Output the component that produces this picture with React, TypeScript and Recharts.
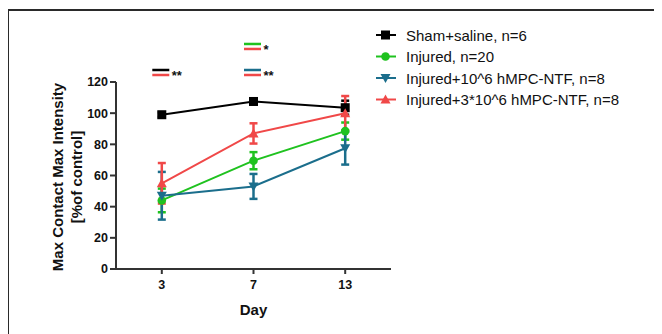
import React from 'react';
import { LineChart, Line, XAxis, YAxis, ErrorBar, Legend, ReferenceDot } from 'recharts';

const days = ['3', '7', '13'];
const shamMean = [99, 107.5, 103.5];
const shamErr = [1.5, 1.5, 4.5];
const injuredMean = [44, 69.5, 88.5];
const injuredErr = [7.6, 5.5, 5.5];
const lowDoseMean = [47, 53, 77.5];
const lowDoseErr = [15.3, 8, 10.5];
const highDoseMean = [55, 87, 100];
const highDoseErr = [13, 6.5, 11];
const yTicks = [0, 20, 40, 60, 80, 100, 120];

const seriesNames = [
  'Sham+saline, n=6',
  'Injured, n=20',
  'Injured+10^6 hMPC-NTF, n=8',
  'Injured+3*10^6 hMPC-NTF, n=8',
];

const BLACK = '#000000';
const GREEN = '#1fc21f';
const BLUE = '#1b6e8c';
const RED = '#f04848';

const series = [
  { key: 'sham', err: 'shamErr', name: seriesNames[0], color: BLACK, shape: 'square' },
  { key: 'injured', err: 'injuredErr', name: seriesNames[1], color: GREEN, shape: 'circle' },
  { key: 'low', err: 'lowErr', name: seriesNames[2], color: BLUE, shape: 'down' },
  { key: 'high', err: 'highErr', name: seriesNames[3], color: RED, shape: 'up' },
];

// significance markers: category, value at top line, top colour, bottom colour, label
const sigDays = ['3', '7', '7'];
const sigValues = [127.7, 144.4, 127.7];
const sigTop = [BLACK, GREEN, BLUE];
const sigBottom = [RED, RED, RED];
const sigLabels = ['**', '*', '**'];

const data = days.map((d, i) => ({
  day: d,
  sham: shamMean[i],
  shamErr: shamErr[i],
  injured: injuredMean[i],
  injuredErr: injuredErr[i],
  low: lowDoseMean[i],
  lowErr: lowDoseErr[i],
  high: highDoseMean[i],
  highErr: highDoseErr[i],
}));

const FONT = '"Liberation Sans", Arial, sans-serif';

function markerPath(shape: string, cx: number, cy: number, color: string, key?: any) {
  if (shape === 'square') {
    return <rect key={key} x={cx - 4.5} y={cy - 4.5} width={9} height={9} fill={color} />;
  }
  if (shape === 'circle') {
    return <circle key={key} cx={cx} cy={cy} r={4.3} fill={color} />;
  }
  if (shape === 'down') {
    return (
      <path key={key} d={`M${cx - 5},${cy - 4} L${cx + 5},${cy - 4} L${cx},${cy + 5} Z`} fill={color} />
    );
  }
  return <path key={key} d={`M${cx - 5},${cy + 4} L${cx + 5},${cy + 4} L${cx},${cy - 5} Z`} fill={color} />;
}

const makeDot = (shape: string, color: string) => (props: any) => {
  const { cx, cy, index } = props;
  if (cx == null || cy == null) return <g key={`n${index}`} />;
  return markerPath(shape, cx, cy, color, `d${shape}${index}`);
};

const LegendContent = () => (
  <svg
    width={300}
    height={110}
    style={{ position: 'absolute', left: 360, top: 0, overflow: 'visible' }}
  >
    {series.map((s, i) => {
      const y = 27 + i * 21.5;
      return (
        <g key={s.key}>
          <line x1={8} x2={28} y1={y} y2={y} stroke={s.color} strokeWidth={2} />
          {markerPath(s.shape, 17.5, y, s.color)}
          <text
            x={38}
            y={y}
            dominantBaseline="central"
            fontSize={15}
            fontFamily={FONT}
            fill="#111"
          >
            {s.name}
          </text>
        </g>
      );
    })}
  </svg>
);

const sigShape = (i: number) => (props: any) => {
  const { cx, cy } = props;
  return (
    <g>
      <line x1={cx - 9.5} x2={cx + 7.5} y1={cy} y2={cy} stroke={sigTop[i]} strokeWidth={2.5} />
      <line x1={cx - 9.5} x2={cx + 7.5} y1={cy + 5} y2={cy + 5} stroke={sigBottom[i]} strokeWidth={2.5} />
      <text x={cx + 10} y={cy + 10} fontSize={13} fontWeight="bold" fontFamily={FONT} fill="#111">
        {sigLabels[i]}
      </text>
    </g>
  );
};

const YLabel = (props: any) => {
  const vb = props.viewBox || { x: 48, y: 74, width: 60, height: 187 };
  const cy = vb.y + vb.height / 2 + 1.5;
  const x1 = vb.x + 1;
  const x2 = vb.x + 20;
  return (
    <g>
      <text
        x={x1}
        y={cy}
        transform={`rotate(-90 ${x1} ${cy})`}
        textAnchor="middle"
        dominantBaseline="central"
        fontSize={15}
        fontWeight="bold"
        fontFamily={FONT}
        fill="#111"
      >
        Max Contact Max Intensity
      </text>
      <text
        x={x2}
        y={cy}
        transform={`rotate(-90 ${x2} ${cy})`}
        textAnchor="middle"
        dominantBaseline="central"
        fontSize={15}
        fontWeight="bold"
        fontFamily={FONT}
        fill="#111"
      >
        [%of control]
      </text>
    </g>
  );
};

const XLabel = (props: any) => {
  const vb = props.viewBox || { x: 108, y: 261, width: 275, height: 30 };
  return (
    <text
      x={vb.x + vb.width / 2}
      y={vb.y + 46}
      textAnchor="middle"
      fontSize={15}
      fontWeight="bold"
      fontFamily={FONT}
      fill="#111"
    >
      Day
    </text>
  );
};

export default function App() {
  return (
    <div style={{ position: 'relative', width: 654, height: 326 }}>
      <div
        style={{
          position: 'absolute',
          left: -1,
          top: 1,
          width: 656,
          height: 330,
          borderTop: '2px solid #2a2a2a',
          borderLeft: '2px solid #2a2a2a',
          boxSizing: 'border-box',
        }}
      />
      <LineChart
        width={654}
        height={326}
        data={data}
        margin={{ top: 74, right: 271, bottom: 35, left: 48 }}
        style={{ fontFamily: FONT }}
      >
        <XAxis
          dataKey="day"
          type="category"
          padding={{ left: 45.8, right: 45.8 }}
          stroke="#333"
          strokeWidth={2}
          tickSize={5}
          tickMargin={6}
          height={30}
          tick={{ fontSize: 12.5, fontWeight: 'bold', fill: '#111', fontFamily: FONT }}
          tickLine={{ stroke: '#333', strokeWidth: 2 }}
          label={<XLabel />}
        />
        <YAxis
          type="number"
          domain={[0, 120]}
          ticks={yTicks}
          interval={0}
          width={60}
          stroke="#333"
          strokeWidth={2}
          tickSize={6}
          tickMargin={2}
          tick={{ fontSize: 12.5, fontWeight: 'bold', fill: '#111', fontFamily: FONT }}
          tickLine={{ stroke: '#333', strokeWidth: 2 }}
          label={<YLabel />}
        />
        {series.map((s) => (
          <Line
            key={s.key}
            dataKey={s.key}
            name={s.name}
            stroke={s.color}
            strokeWidth={2}
            isAnimationActive={false}
            dot={makeDot(s.shape, s.color)}
            activeDot={false}
          >
            <ErrorBar
              dataKey={s.err}
              width={4}
              strokeWidth={2.5}
              stroke={s.color}
              direction="y"
              isAnimationActive={false}
            />
          </Line>
        ))}
        {sigDays.map((d, i) => (
          <ReferenceDot
            key={`sig${i}`}
            x={d}
            y={sigValues[i]}
            ifOverflow="visible"
            shape={sigShape(i)}
          />
        ))}
        <Legend
          content={<LegendContent />}
          wrapperStyle={{ position: 'absolute', left: 0, top: 0, width: 0, height: 0, overflow: 'visible' }}
        />
      </LineChart>
    </div>
  );
}
